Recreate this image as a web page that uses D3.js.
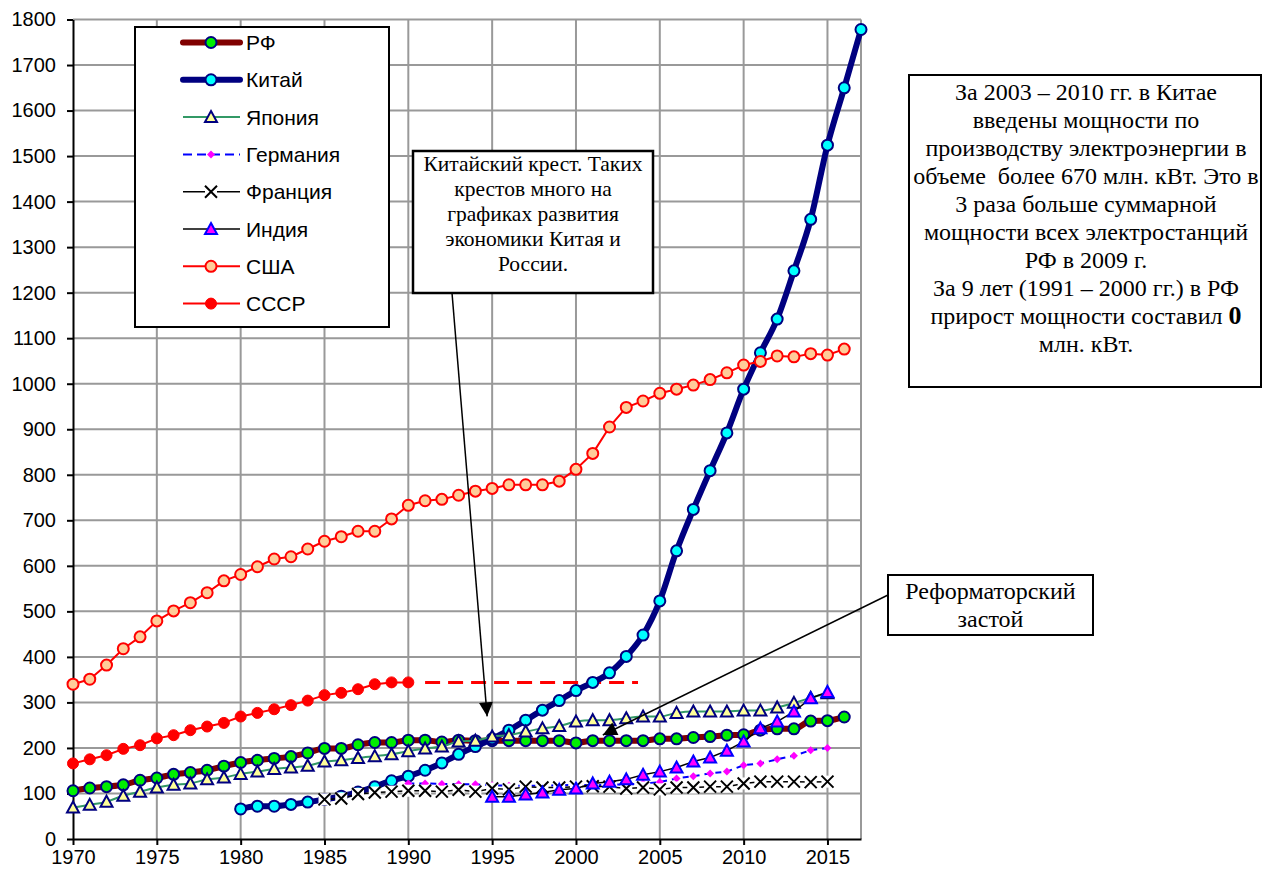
<!DOCTYPE html>
<html><head><meta charset="utf-8">
<script src="https://cdn.jsdelivr.net/npm/d3@7"></script>
<style>body{margin:0;background:#fff}</style></head>
<body><svg id="c" width="1272" height="881"></svg>
<script>
// ---- data (млн. кВт / GW) ----
const xTicks = [1970, 1975, 1980, 1985, 1990, 1995, 2000, 2005, 2010, 2015];
const yTicks = [0,100,200,300,400,500,600,700,800,900,1000,1100,1200,1300,1400,1500,1600,1700,1800];

const rfStart = 1970;
const rfValues = [106,112,115,119,129,134,142,146,151,160, 168,173,177,181,189,199,199,207,212,212,
  217,217,213,217,216,216,216,216,216,216, 211,216,216,216,216,220,220,223,225,228, 229,239,242,242,259,260,268];
const chinaStart = 1980;
const chinaValues = [66,72,72,76,81,87,94,103,115,128, 138,151,167,186,203,220,239,261,283,304,
  326,344,365,401,448,523,633,724,809,892, 988,1068,1142,1248,1361,1524,1650,1778];
const japanStart = 1970;
const japanValues = [69,75,82,95,104,113,119,122,131,135, 143,148,154,157,161,170,173,178,182,186,
  193,199,203,214,216,225,228,236,243,248, 258,261,261,265,269,269,277,280,280,280, 282,282,289,299,310,320];
const germanyStart = 1990;
const germanyValues = [122,122,121,120,120,118,117,117,117,118, 119,118,119,120,122,125,133,138,144,148, 162,166,175,183,195,200];
const franceStart = 1985;
const franceValues = [87,89,99,102,104, 106,106,104,108,104,111,109,115,113,113, 115,116,115,111,113,109,113,113,115,115, 122,126,126,126,125,126];
const indiaStart = 1995;
const indiaValues = [93,93,98,102,108, 111,122,126,131,141,148,157,170,179,194, 214,243,258,280,309,323];
const usaStart = 1970;
const usaValues = [340,351,382,418,444,479,501,519,541,567, 581,598,615,620,637,654,664,676,676,703,
  733,743,746,755,764,770,778,778,778,786, 812,847,905,948,962,979,988,997,1009,1024, 1041,1049,1061,1059,1066,1063,1076];
const ussrStart = 1970;
const ussrValues = [166,175,184,198,206,221,228,239,247,255, 269,277,285,294,304,316,321,329,340,344,344];
const ussrLevelYears = [1991, 2003.7];
const ussrLevelValue = 344;

const seriesNames = ["РФ","Китай","Япония","Германия","Франция","Индия","США","СССР"];

// annotation anchors (data coordinates)
const crossPoint = [1995.0, 265];
const stagnationPoint = [2001.6, 235];

const toPts = (start, vals) => vals.map((v,i)=>({x:start+i, y:v}));

// ---- setup ----
const svg = d3.select("#c");
svg.append("rect").attr("width",1272).attr("height",881).attr("fill","#fff");
const x = d3.scaleLinear().domain([1970, 2017]).range([73, 861]);
const y = d3.scaleLinear().domain([0, 1800]).range([839, 19.5]);

// gridlines
const grid = svg.append("g");
const vGrid = d3.range(1975, 2016, 5).concat([2017]);
grid.selectAll("line.v").data(vGrid).join("line")
  .attr("x1",d=>x(d)).attr("x2",d=>x(d)).attr("y1",y(0)).attr("y2",y(1800))
  .attr("stroke","#999").attr("stroke-width",2);
grid.selectAll("line.h").data(yTicks.filter(d=>d>0)).join("line")
  .attr("x1",x(1970)).attr("x2",x(2017)).attr("y1",d=>y(d)).attr("y2",d=>y(d))
  .attr("stroke","#999").attr("stroke-width",2);

// axes
const fontSans = "'Liberation Sans', Arial, sans-serif";
const fontSerif = "'Liberation Serif', 'Times New Roman', serif";
const yAxis = svg.append("g").attr("transform",`translate(${x(1970)},0)`)
  .call(d3.axisLeft(y).tickValues(yTicks).tickFormat(d3.format("d")).tickSize(6).tickSizeOuter(0).tickPadding(11));
const xAxis = svg.append("g").attr("transform",`translate(0,${y(0)})`)
  .call(d3.axisBottom(x).tickValues(xTicks).tickFormat(d3.format("d")).tickSize(6).tickSizeOuter(0).tickPadding(5));
[yAxis,xAxis].forEach(a=>{
  a.selectAll("path,line").attr("stroke","#000").attr("stroke-width",2);
  a.selectAll("text").attr("font-family",fontSans).attr("font-size",20).attr("fill","#000");
});

// USSR level dashed line
svg.append("line")
  .attr("x1",x(ussrLevelYears[0])).attr("x2",x(ussrLevelYears[1]))
  .attr("y1",y(ussrLevelValue)).attr("y2",y(ussrLevelValue))
  .attr("stroke","#ff0000").attr("stroke-width",3).attr("stroke-dasharray","15,8");

// marker helpers
function circ(g, cx, cy, fill, stroke, r=5.5, sw=2){
  g.append("circle").attr("cx",cx).attr("cy",cy).attr("r",r).attr("fill",fill).attr("stroke",stroke).attr("stroke-width",sw);
}
function tri(g, cx, cy, fill, stroke){
  g.append("path").attr("d",`M${cx},${cy-6}L${cx+6},${cy+5}L${cx-6},${cy+5}Z`)
   .attr("fill",fill).attr("stroke",stroke).attr("stroke-width",2).attr("stroke-linejoin","miter");
}
function diam(g, cx, cy, fill){
  g.append("path").attr("d",`M${cx},${cy-4}L${cx+4},${cy}L${cx},${cy+4}L${cx-4},${cy}Z`).attr("fill",fill);
}
function cross(g, cx, cy, bg=true){
  if(bg) g.append("rect").attr("x",cx-6).attr("y",cy-6).attr("width",12).attr("height",12).attr("fill","#fff");
  g.append("path").attr("d",`M${cx-6},${cy-6}L${cx+6},${cy+6}M${cx+6},${cy-6}L${cx-6},${cy+6}`)
   .attr("stroke","#000").attr("stroke-width",2);
}

const styles = [
  {start:rfStart, vals:rfValues, color:"#800000", w:6, curve:d3.curveMonotoneX, mk:(g,a,b)=>circ(g,a,b,"#00ee00","#000080")},
  {start:chinaStart, vals:chinaValues, color:"#000080", w:6, curve:d3.curveMonotoneX, mk:(g,a,b)=>circ(g,a,b,"#00ffff","#000080")},
  {start:japanStart, vals:japanValues, color:"#339966", w:2, curve:d3.curveMonotoneX, mk:(g,a,b)=>tri(g,a,b,"#ffff99","#000080")},
  {start:germanyStart, vals:germanyValues, color:"#0000ff", w:2, dash:"6,5", curve:d3.curveLinear, mk:(g,a,b)=>diam(g,a,b,"#ff00ff")},
  {start:franceStart, vals:franceValues, color:"#000000", w:1.5, curve:d3.curveLinear, mk:(g,a,b)=>cross(g,a,b)},
  {start:indiaStart, vals:indiaValues, color:"#000000", w:1.5, curve:d3.curveLinear, mk:(g,a,b)=>tri(g,a,b,"#ff00ff","#0000ff")},
  {start:usaStart, vals:usaValues, color:"#ff0000", w:2, curve:d3.curveLinear, mk:(g,a,b)=>circ(g,a,b,"#ffcc99","#ff0000")},
  {start:ussrStart, vals:ussrValues, color:"#ff0000", w:2, curve:d3.curveLinear, mk:(g,a,b)=>circ(g,a,b,"#ff0000","#ff0000",5.5,1)}
];

styles.forEach(s=>{
  const g = svg.append("g");
  const pts = toPts(s.start, s.vals);
  const line = d3.line().x(d=>x(d.x)).y(d=>y(d.y)).curve(s.curve);
  g.append("path").attr("d",line(pts)).attr("fill","none").attr("stroke",s.color)
   .attr("stroke-width",s.w).attr("stroke-dasharray",s.dash||null).attr("stroke-linejoin","round");
  pts.forEach(p=>s.mk(g, x(p.x), y(p.y)));
});

// arrows
const defs = svg.append("defs");
defs.append("marker").attr("id","ah").attr("viewBox","0 0 10 10").attr("refX",10).attr("refY",5)
  .attr("markerWidth",16).attr("markerHeight",14).attr("markerUnits","userSpaceOnUse")
  .attr("orient","auto").append("path").attr("d","M0,0L10,5L0,10Z").attr("fill","#000");

// Chinese cross box
const b1 = {x:413, y:151, w:240, h:142};
svg.append("line").attr("x1",452).attr("y1",b1.y+b1.h).attr("x2",x(crossPoint[0])-5).attr("y2",y(crossPoint[1])-2)
  .attr("stroke","#000").attr("stroke-width",1.5).attr("marker-end","url(#ah)");
svg.append("rect").attr("x",b1.x).attr("y",b1.y).attr("width",b1.w).attr("height",b1.h)
  .attr("fill","#fff").attr("stroke","#000").attr("stroke-width",2.5);
const t1 = ["Китайский крест. Таких","крестов много на","графиках развития","экономики Китая и","России."];
svg.append("g").selectAll("text").data(t1).join("text")
  .attr("x",b1.x+b1.w/2).attr("y",(d,i)=>171+i*25).attr("text-anchor","middle")
  .attr("font-family",fontSerif).attr("font-size",21.5).text(d=>d);

// Reform box
const b2 = {x:888, y:575, w:205, h:60};
svg.append("line").attr("x1",b2.x).attr("y1",595).attr("x2",x(stagnationPoint[0])).attr("y2",y(stagnationPoint[1])+3)
  .attr("stroke","#000").attr("stroke-width",1.5).attr("marker-end","url(#ah)");
svg.append("rect").attr("x",b2.x).attr("y",b2.y).attr("width",b2.w).attr("height",b2.h)
  .attr("fill","#fff").attr("stroke","#000").attr("stroke-width",2);
svg.append("g").selectAll("text").data(["Реформаторский","застой"]).join("text")
  .attr("x",b2.x+b2.w/2).attr("y",(d,i)=>599+i*28).attr("text-anchor","middle")
  .attr("font-family",fontSerif).attr("font-size",24).text(d=>d);

// Right info box
const b3 = {x:909, y:75, w:352, h:312};
svg.append("rect").attr("x",b3.x).attr("y",b3.y).attr("width",b3.w).attr("height",b3.h)
  .attr("fill","#fff").attr("stroke","#000").attr("stroke-width",2);
const t3 = ["За 2003 – 2010 гг. в Китае","введены мощности по","производству электроэнергии в",
  "объеме  более 670 млн. кВт. Это в","3 раза больше суммарной","мощности всех электростанций",
  "РФ в 2009 г.","За 9 лет (1991 – 2000 гг.) в РФ","прирост мощности составил ","млн. кВт."];
const tg = svg.append("g").attr("font-family",fontSerif).attr("font-size",24).attr("text-anchor","middle");
t3.forEach((s,i)=>{
  const t = tg.append("text").attr("x",b3.x+b3.w/2+1).attr("y",100+i*28).attr("xml:space","preserve").style("white-space","pre");
  t.append("tspan").text(s);
  if(i===8) t.append("tspan").attr("font-weight","bold").attr("font-size",26).text("0");
});

// legend
const lg = svg.append("g");
lg.append("rect").attr("x",135).attr("y",27).attr("width",254).attr("height",300)
  .attr("fill","#fff").attr("stroke","#000").attr("stroke-width",2);
styles.forEach((s,i)=>{
  const cy = 42.5 + i*37.3;
  lg.append("line").attr("x1",183).attr("x2",240).attr("y1",cy).attr("y2",cy)
    .attr("stroke",s.color).attr("stroke-width",s.w).attr("stroke-dasharray",s.dash?"9,5":null)
    .attr("stroke-linecap", s.w>3?"round":"butt");
  s.mk(lg, 211, cy);
  lg.append("text").attr("x",246).attr("y",cy).attr("dy","0.36em")
    .attr("font-family",fontSans).attr("font-size",21).text(seriesNames[i]);
});
</script></body></html>
